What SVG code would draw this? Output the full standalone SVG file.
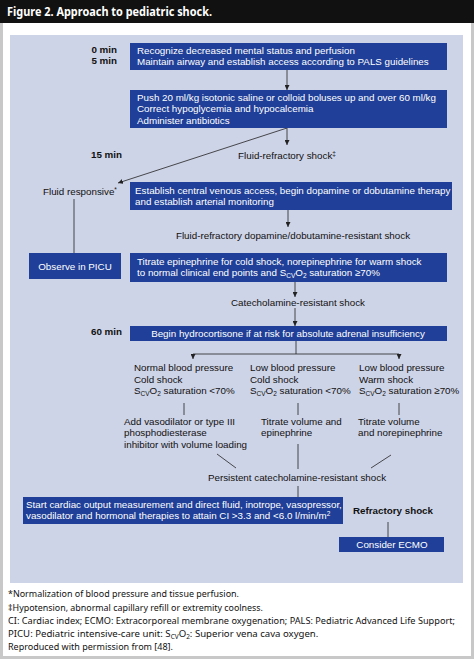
<svg xmlns="http://www.w3.org/2000/svg" width="474" height="659" viewBox="0 0 474 659">
<defs>
<marker id="ah" viewBox="0 0 6 6" refX="6" refY="3" markerWidth="5" markerHeight="5" orient="auto" markerUnits="userSpaceOnUse">
<path d="M0,0 L6,3 L0,6 z" fill="#222"/>
</marker>
<style>
.box{fill:#1f3f98;}
.bt{font-family:"Liberation Sans",Arial,sans-serif;font-size:9.8px;fill:#fff;}
.t{font-family:"Liberation Sans",Arial,sans-serif;font-size:9.8px;fill:#111;}
.b{font-family:"Liberation Sans",Arial,sans-serif;font-size:9.8px;font-weight:bold;fill:#111;}
.fn{font-family:"Noto Sans","Open Sans",sans-serif;font-size:9.6px;fill:#111;}
.sub{font-size:6.5px;}
.ln{stroke:#222;stroke-width:0.8;fill:none;}
.ar{stroke:#222;stroke-width:0.8;fill:none;marker-end:url(#ah);}
</style>
</defs>
<rect x="0" y="0" width="474" height="659" fill="#c8c8c8"/>
<rect x="3" y="0" width="468" height="656" fill="#ffffff"/>
<rect x="0" y="0" width="474" height="23" fill="#111"/>
<text x="7" y="16" font-family="Noto Sans,Open Sans,sans-serif" font-size="12.5" font-weight="bold" fill="#fff" textLength="205" lengthAdjust="spacingAndGlyphs">Figure 2. Approach to pediatric shock.</text>
<rect x="10" y="35" width="453" height="548" fill="#ced4e7"/>

<g id="connectors">
<line class="ar" x1="287" y1="70" x2="287" y2="90"/>
<line class="ar" x1="287" y1="128" x2="287" y2="145"/>
<line class="ar" x1="287" y1="128" x2="118" y2="183"/>
<line class="ln" x1="74" y1="199" x2="74" y2="253"/>
<line class="ar" x1="288" y1="210" x2="288" y2="227"/>
<line class="ar" x1="295" y1="282" x2="295" y2="297"/>
<line class="ar" x1="295" y1="308" x2="295" y2="326"/>
<polyline class="ln" points="296,341 296,354"/>
<polyline class="ln" points="193,354 399,354"/>
<line class="ar" x1="193" y1="354" x2="193" y2="359"/>
<line class="ar" x1="399" y1="354" x2="399" y2="359"/>
<line class="ln" x1="184" y1="403" x2="184" y2="415"/>
<line class="ln" x1="298" y1="403" x2="298" y2="415"/>
<line class="ln" x1="399" y1="403" x2="399" y2="415"/>
<line class="ln" x1="217" y1="454" x2="236" y2="468"/>
<line class="ln" x1="298" y1="444" x2="298" y2="469"/>
<line class="ln" x1="391" y1="455" x2="371" y2="468"/>
<line class="ln" x1="298" y1="486" x2="298" y2="497"/>
<line class="ln" x1="388" y1="522" x2="388" y2="537"/>
</g>

<g id="time-labels">
<text class="b" x="117" y="53" text-anchor="end">0 min</text>
<text class="b" x="117" y="63.5" text-anchor="end">5 min</text>
<text class="b" x="122" y="158" text-anchor="end">15 min</text>
<text class="b" x="122" y="335" text-anchor="end">60 min</text>
</g>

<g id="n1">
<rect class="box" x="130" y="43" width="317" height="27"/>
<text class="bt" x="137" y="53.5">Recognize decreased mental status and perfusion</text>
<text class="bt" x="137" y="64.5">Maintain airway and establish access according to PALS guidelines</text>
</g>
<g id="n2">
<rect class="box" x="130" y="90" width="317" height="38"/>
<text class="bt" x="137" y="100.5">Push 20 ml/kg isotonic saline or colloid boluses up and over 60 ml/kg</text>
<text class="bt" x="137" y="112">Correct hypoglycemia and hypocalcemia</text>
<text class="bt" x="137" y="123.5">Administer antibiotics</text>
</g>
<g id="n-fluid-refractory">
<text class="t" x="287" y="159" text-anchor="middle">Fluid-refractory shock<tspan class="sub" dy="-3">‡</tspan></text>
</g>
<g id="n-fluid-responsive">
<text class="t" x="43" y="195">Fluid responsive<tspan class="sub" dy="-3">*</tspan></text>
</g>
<g id="n3">
<rect class="box" x="130" y="182" width="322" height="28"/>
<text class="bt" x="135" y="194">Establish central venous access, begin dopamine or dobutamine therapy</text>
<text class="bt" x="135" y="205">and establish arterial monitoring</text>
</g>
<g id="n-picu">
<rect class="box" x="29" y="253" width="92" height="26"/>
<text class="bt" x="75" y="269.5" text-anchor="middle">Observe in PICU</text>
</g>
<g id="n-dopa-resistant">
<text class="t" x="293" y="238.5" text-anchor="middle">Fluid-refractory dopamine/dobutamine-resistant shock</text>
</g>
<g id="n4">
<rect class="box" x="130" y="253" width="317" height="29"/>
<text class="bt" x="137" y="264.5">Titrate epinephrine for cold shock, norepinephrine for warm shock</text>
<text class="bt" x="137" y="276">to normal clinical end points and S<tspan class="sub" dy="2">CV</tspan><tspan dy="-2">O</tspan><tspan class="sub" dy="2">2</tspan><tspan dy="-2"> saturation ≥70%</tspan></text>
</g>
<g id="n-catechol">
<text class="t" x="298" y="305.5" text-anchor="middle">Catecholamine-resistant shock</text>
</g>
<g id="n5">
<rect class="box" x="130" y="326" width="317" height="15"/>
<text class="bt" x="288" y="336.5" text-anchor="middle">Begin hydrocortisone if at risk for absolute adrenal insufficiency</text>
</g>
<g id="n-col1">
<text class="t" x="134" y="371">Normal blood pressure</text>
<text class="t" x="134" y="382.5">Cold shock</text>
<text class="t" x="134" y="394">S<tspan class="sub" dy="2">CV</tspan><tspan dy="-2">O</tspan><tspan class="sub" dy="2">2</tspan><tspan dy="-2"> saturation &lt;70%</tspan></text>
</g>
<g id="n-col2">
<text class="t" x="250" y="371">Low blood pressure</text>
<text class="t" x="250" y="382.5">Cold shock</text>
<text class="t" x="250" y="394">S<tspan class="sub" dy="2">CV</tspan><tspan dy="-2">O</tspan><tspan class="sub" dy="2">2</tspan><tspan dy="-2"> saturation &lt;70%</tspan></text>
</g>
<g id="n-col3">
<text class="t" x="359" y="371">Low blood pressure</text>
<text class="t" x="359" y="382.5">Warm shock</text>
<text class="t" x="359" y="394">S<tspan class="sub" dy="2">CV</tspan><tspan dy="-2">O</tspan><tspan class="sub" dy="2">2</tspan><tspan dy="-2"> saturation ≥70%</tspan></text>
</g>
<g id="n-tx1">
<text class="t" x="124" y="424.5">Add vasodilator or type III</text>
<text class="t" x="124" y="436">phosphodiesterase</text>
<text class="t" x="124" y="447.5">inhibitor with volume loading</text>
</g>
<g id="n-tx2">
<text class="t" x="261" y="424.5">Titrate volume and</text>
<text class="t" x="261" y="436">epinephrine</text>
</g>
<g id="n-tx3">
<text class="t" x="358" y="424.5">Titrate volume</text>
<text class="t" x="358" y="436">and norepinephrine</text>
</g>
<g id="n-persistent">
<text class="t" x="297" y="480.5" text-anchor="middle">Persistent catecholamine-resistant shock</text>
</g>
<g id="n6">
<rect class="box" x="23" y="497" width="320" height="27"/>
<text class="bt" x="26" y="508">Start cardiac output measurement and direct fluid, inotrope, vasopressor,</text>
<text class="bt" x="26" y="519">vasodilator and hormonal therapies to attain CI &gt;3.3 and &lt;6.0 l/min/m<tspan class="sub" dy="-3">2</tspan></text>
</g>
<g id="n-refractory">
<text class="b" x="393" y="514" text-anchor="middle">Refractory shock</text>
</g>
<g id="n-ecmo">
<rect class="box" x="339" y="537" width="105" height="15"/>
<text class="bt" x="392" y="547.5" text-anchor="middle">Consider ECMO</text>
</g>

<g id="footnotes">
<text class="fn" x="8" y="597" textLength="231" lengthAdjust="spacingAndGlyphs">*Normalization of blood pressure and tissue perfusion.</text>
<text class="fn" x="8" y="610.5" textLength="255" lengthAdjust="spacingAndGlyphs">‡Hypotension, abnormal capillary refill or extremity coolness.</text>
<text class="fn" x="8" y="623.5" textLength="447" lengthAdjust="spacingAndGlyphs">CI: Cardiac index; ECMO: Extracorporeal membrane oxygenation; PALS: Pediatric Advanced Life Support;</text>
<text class="fn" x="8" y="637" font-size="9.2">PICU: Pediatric intensive-care unit: S<tspan class="sub" dy="2">CV</tspan><tspan dy="-2">O</tspan><tspan class="sub" dy="2">2</tspan><tspan dy="-2">: Superior vena cava oxygen.</tspan></text>
<text class="fn" x="8" y="650" textLength="165" lengthAdjust="spacingAndGlyphs">Reproduced with permission from [48].</text>
</g>
</svg>
